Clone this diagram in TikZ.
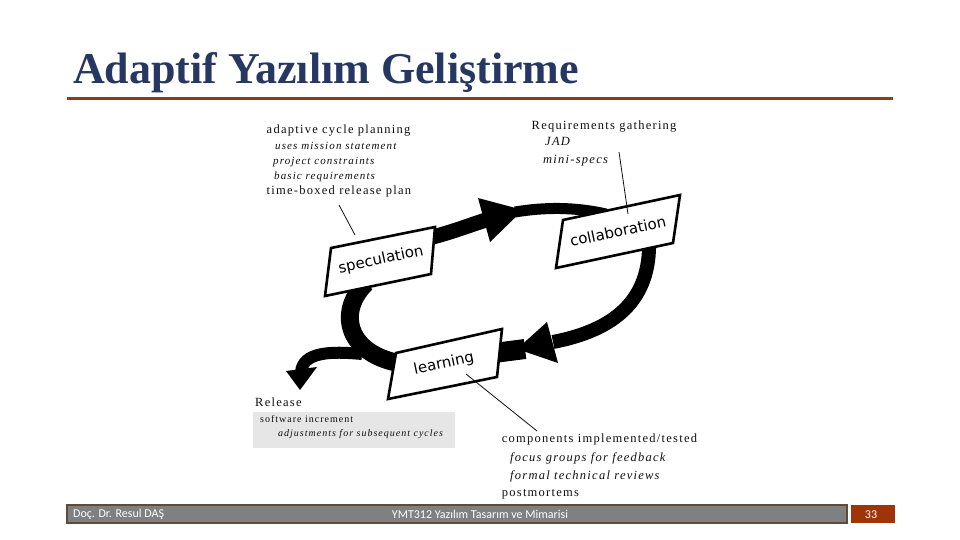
\documentclass[tikz,border=0pt]{standalone}
\usepackage{fontspec}
\setmainfont{Liberation Serif}
\newfontfamily\dg[LetterSpace=10]{Liberation Serif}
\newfontfamily\boxfont{DejaVu Sans}
\newfontfamily\footfont{Carlito}
\definecolor{titleblue}{RGB}{38,55,98}
\definecolor{rulebrown}{RGB}{139,62,22}
\definecolor{footgrey}{RGB}{128,128,128}
\definecolor{footedge}{RGB}{95,75,60}
\definecolor{pagebrown}{RGB}{158,52,10}
\definecolor{relgrey}{RGB}{230,230,230}
\definecolor{ink}{RGB}{15,15,15}
\begin{document}
\begin{tikzpicture}[x=1pt,y=-1pt,
  band/.style={line width=#1, line cap=butt, draw=black},
  boxline/.style={draw=black, line width=2.6pt, fill=white, line join=miter},
  boxlbl/.style={font=\boxfont\fontsize{15}{15}\selectfont, rotate=12, inner sep=0pt},
  txt/.style={anchor=base west, inner sep=0pt, text=ink, font=\dg\fontsize{12.5}{14}\selectfont},
  itl/.style={anchor=base west, inner sep=0pt, text=ink, font=\dg\itshape\fontsize{11}{13}\selectfont},
  itb/.style={anchor=base west, inner sep=0pt, text=ink, font=\dg\itshape\fontsize{12.5}{14}\selectfont},
  sml/.style={anchor=base west, inner sep=0pt, text=ink, font=\dg\fontsize{10}{12}\selectfont},
  smi/.style={anchor=base west, inner sep=0pt, text=ink, font=\dg\itshape\fontsize{10}{12}\selectfont},
  leader/.style={draw=ink, line width=0.8pt},
  foottxt/.style={text=white, inner sep=0pt, font=\footfont\fontsize{12}{13}\selectfont}
]
\useasboundingbox (0,0) rectangle (960,540);
\fill[white] (0,0) rectangle (960,540);

% title and rule
\node[anchor=base west, inner sep=0pt, text=titleblue, font=\bfseries\fontsize{44}{44}\selectfont] (title) at (73,84) {Adaptif Yazılım Geliştirme};
\draw[rulebrown, line width=3pt] (67,99) -- (893,99);

% footer
\fill[footgrey] (67,505) rectangle (847,523);
\draw[footedge, line width=1.2pt] (67,505) rectangle (847,523);
\fill[pagebrown] (851,505) rectangle (895,523);
\node[foottxt, anchor=west] (author) at (73,514.5) {Doç. Dr. Resul DAŞ};
\node[foottxt] (course) at (480,514.5) {YMT312 Yazılım Tasarım ve Mimarisi};
\node[foottxt] (page) at (871,514.5) {33};

% box corner coordinates
\coordinate (s1) at (331,248); \coordinate (s2) at (435,227);
\coordinate (s3) at (431,274); \coordinate (s4) at (325,296);
\coordinate (c1) at (563,220); \coordinate (c2) at (680,195);
\coordinate (c3) at (673,243); \coordinate (c4) at (556,268);
\coordinate (l1) at (396,353); \coordinate (l2) at (502,329);
\coordinate (l3) at (497,377); \coordinate (l4) at (388,399);

% thick bands
% speculation -> collaboration
\draw[band=15] (425,239) .. controls (450,233) and (470,225) .. (486,220);
\fill (478,198) -- (490,242) -- (523,210) -- cycle;
\draw[band=11] (515,212) .. controls (545,207) and (575,207) .. (606,214);
% collaboration -> learning
\draw[band=14] (649,240) .. controls (651,300) and (615,330) .. (553,342);
\fill (547,322) -- (558,363) -- (517,349) -- cycle;
\draw[band=20] (525,349) -- (494,353);
% learning -> speculation (loop)
\draw[band=18] (398,363) .. controls (345,352) and (338,310) .. (366,283);
% branch to release
\draw[band=12] (362,354) .. controls (330,351) and (303,352) .. (301,372);
\fill (286,371) -- (317,367) -- (300,390) -- cycle;

% boxes
\draw[boxline] (s1) -- (s2) -- (s3) -- (s4) -- cycle;
\draw[boxline] (c1) -- (c2) -- (c3) -- (c4) -- cycle;
\draw[boxline] (l1) -- (l2) -- (l3) -- (l4) -- cycle;
\node[boxlbl] (spec) at (381,260) {speculation};
\node[boxlbl] (collab) at (618,231) {collaboration};
\node[boxlbl] (learn) at (444,364) {learning};

% top-left text
\node[txt] (tl1) at (266.5,134) {adaptive cycle planning};
\node[itl] (tl2) at (275,149.3) {uses mission statement};
\node[itl] (tl3) at (273,164.3) {project constraints};
\node[itl] (tl4) at (274,179.3) {basic requirements};
\node[txt] (tl5) at (266.5,194) {time-boxed release plan};

% top-right text
\node[txt] (tr1) at (531.5,129.3) {Requirements gathering};
\node[itb] (tr2) at (545,146) {JAD};
\node[itb] (tr3) at (543,163.3) {mini-specs};

% release
\node[txt] (rel) at (255,406.7) {Release};
\fill[relgrey] (253,412) rectangle (455,448);
\node[sml] (rel1) at (260,422.7) {software increment};
\node[smi] (rel2) at (278,436.7) {adjustments for subsequent cycles};

% bottom-right text
\node[txt] (br1) at (501.7,442.3) {components implemented/tested};
\node[itb] (br2) at (510,461.7) {focus groups for feedback};
\node[itb] (br3) at (510,479.3) {formal technical reviews};
\node[txt] (br4) at (501.7,496.7) {postmortems};

% leader lines
\coordinate (ls) at (355,235);
\coordinate (lc) at (628,214);
\coordinate (ll) at (466,374);
\coordinate (lsA) at (339,205);
\coordinate (lcA) at (619,152);
\coordinate (llA) at (537,431);
\draw[leader] (lsA) -- (ls);
\draw[leader] (lcA) -- (lc);
\draw[leader] (ll) -- (llA);
\end{tikzpicture}
\end{document}
